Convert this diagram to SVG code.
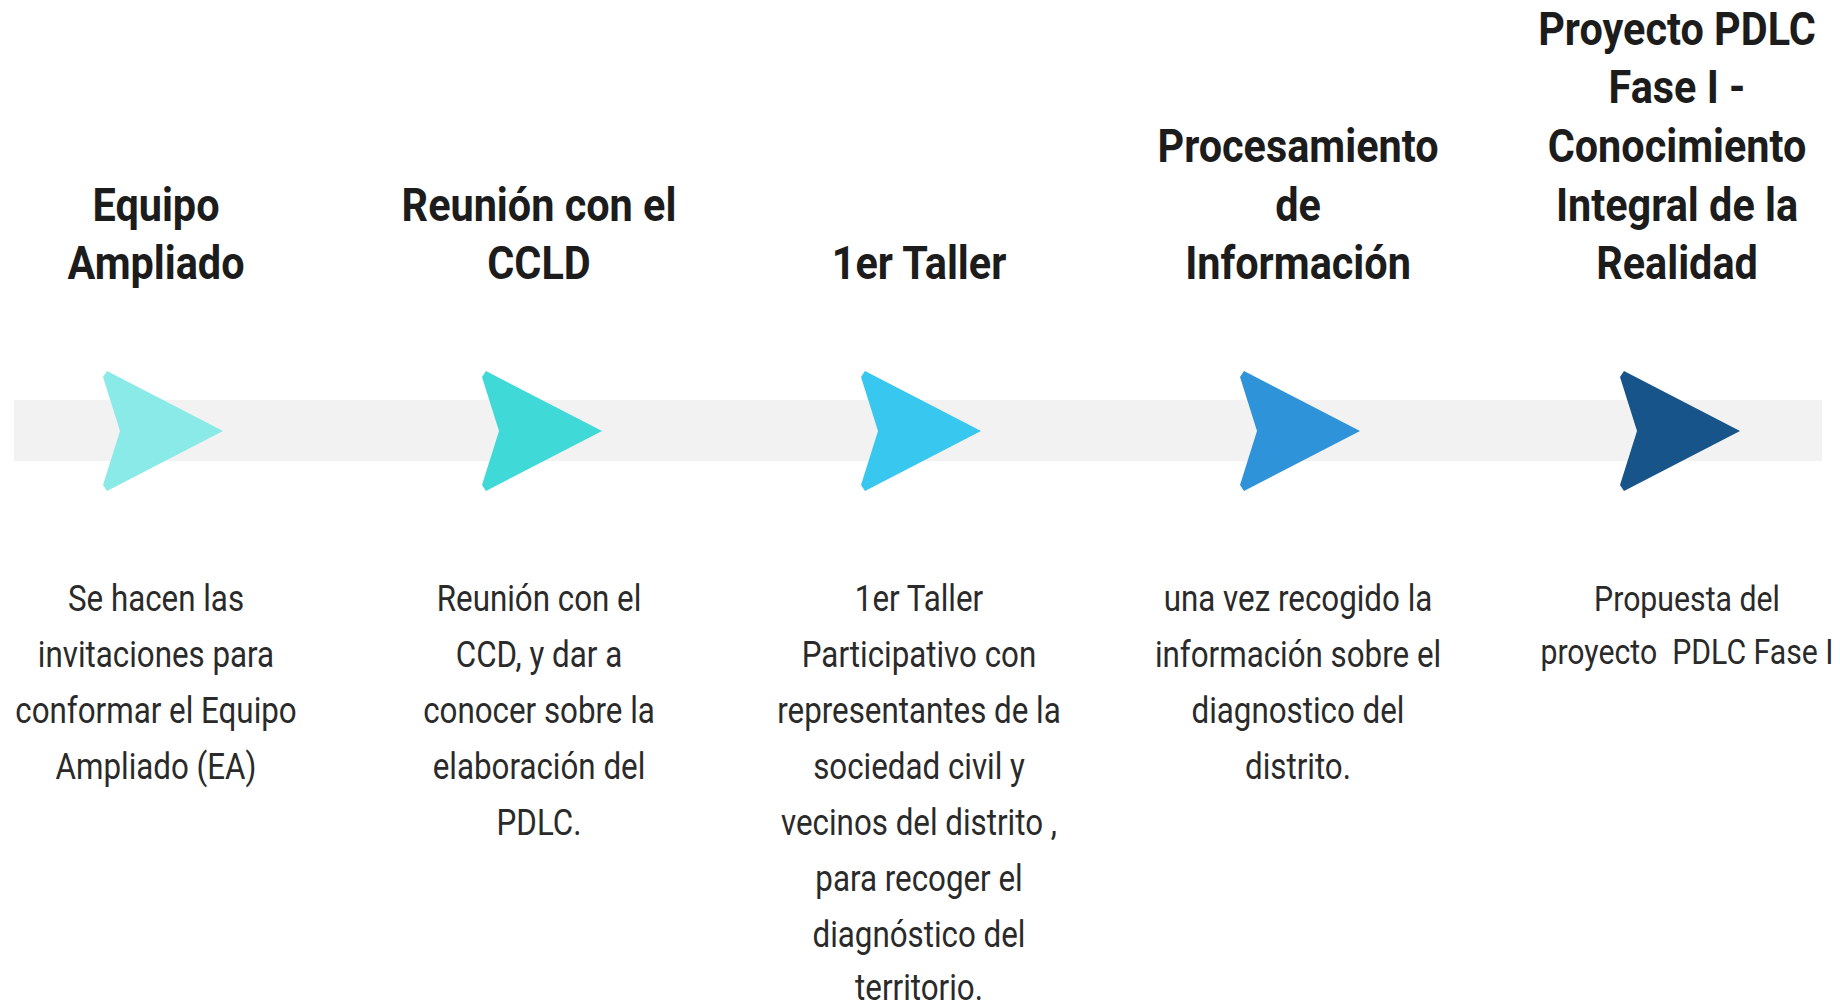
<svg xmlns="http://www.w3.org/2000/svg" width="1840" height="1007" viewBox="0 0 1840 1007">
<style>
.t{font-family:Roboto,"Liberation Sans",sans-serif;font-weight:700;font-size:46px;fill:#1c1c1c;text-anchor:middle}
.b{font-family:Roboto,"Liberation Sans",sans-serif;font-weight:400;font-size:36px;fill:#2a2a2a;text-anchor:middle}
</style>
<defs>
<path id="arr" d="M1,377 L5,371 L121,431 L5,491 L1,485 L18,431 Z"/>
</defs>
<rect x="14" y="400" width="1808" height="61" fill="#f2f2f2"/>
<g id="connectors"></g>
<g id="node1">
<use href="#arr" x="102" fill="#89eae8"/>
<g transform="translate(156,0) scale(0.9,1)"><text class="t"><tspan x="0" y="221">Equipo</tspan><tspan x="0" y="279">Ampliado</tspan></text></g>
<g transform="translate(156,0) scale(0.87,1)"><text class="b"><tspan x="0" y="611">Se hacen las</tspan><tspan x="0" y="667">invitaciones para</tspan><tspan x="0" y="723">conformar el Equipo</tspan><tspan x="0" y="779">Ampliado (EA)</tspan></text></g>
</g>
<g id="node2">
<use href="#arr" x="481" fill="#3fdad7"/>
<g transform="translate(539,0) scale(0.9,1)"><text class="t"><tspan x="0" y="221">Reunión con el</tspan><tspan x="0" y="279">CCLD</tspan></text></g>
<g transform="translate(539,0) scale(0.87,1)"><text class="b"><tspan x="0" y="611">Reunión con el</tspan><tspan x="0" y="667">CCD, y dar a</tspan><tspan x="0" y="723">conocer sobre la</tspan><tspan x="0" y="779">elaboración del</tspan><tspan x="0" y="835">PDLC.</tspan></text></g>
</g>
<g id="node3">
<use href="#arr" x="860" fill="#38c7ee"/>
<g transform="translate(919,0) scale(0.9,1)"><text class="t"><tspan x="0" y="279">1er Taller</tspan></text></g>
<g transform="translate(919,0) scale(0.87,1)"><text class="b"><tspan x="0" y="611">1er Taller</tspan><tspan x="0" y="667">Participativo con</tspan><tspan x="0" y="723">representantes de la</tspan><tspan x="0" y="779">sociedad civil y</tspan><tspan x="0" y="835">vecinos del distrito ,</tspan><tspan x="0" y="891">para recoger el</tspan><tspan x="0" y="947">diagnóstico del</tspan><tspan x="0" y="1000">territorio.</tspan></text></g>
</g>
<g id="node4">
<use href="#arr" x="1239" fill="#2f93d9"/>
<g transform="translate(1298,0) scale(0.9,1)"><text class="t"><tspan x="0" y="162">Procesamiento</tspan><tspan x="0" y="221">de</tspan><tspan x="0" y="279">Información</tspan></text></g>
<g transform="translate(1298,0) scale(0.87,1)"><text class="b"><tspan x="0" y="611">una vez recogido la</tspan><tspan x="0" y="667">información sobre el</tspan><tspan x="0" y="723">diagnostico del</tspan><tspan x="0" y="779">distrito.</tspan></text></g>
</g>
<g id="node5">
<use href="#arr" x="1619" fill="#17548a"/>
<g transform="translate(1677,0) scale(0.9,1)"><text class="t"><tspan x="0" y="45">Proyecto PDLC</tspan><tspan x="0" y="103">Fase I -</tspan><tspan x="0" y="162">Conocimiento</tspan><tspan x="0" y="221">Integral de la</tspan><tspan x="0" y="279">Realidad</tspan></text></g>
<g transform="translate(1687,0) scale(0.84,1)"><text class="b" xml:space="preserve"><tspan x="0" y="611">Propuesta del</tspan><tspan x="0" y="664">proyecto  PDLC Fase I</tspan></text></g>
</g>
</svg>
